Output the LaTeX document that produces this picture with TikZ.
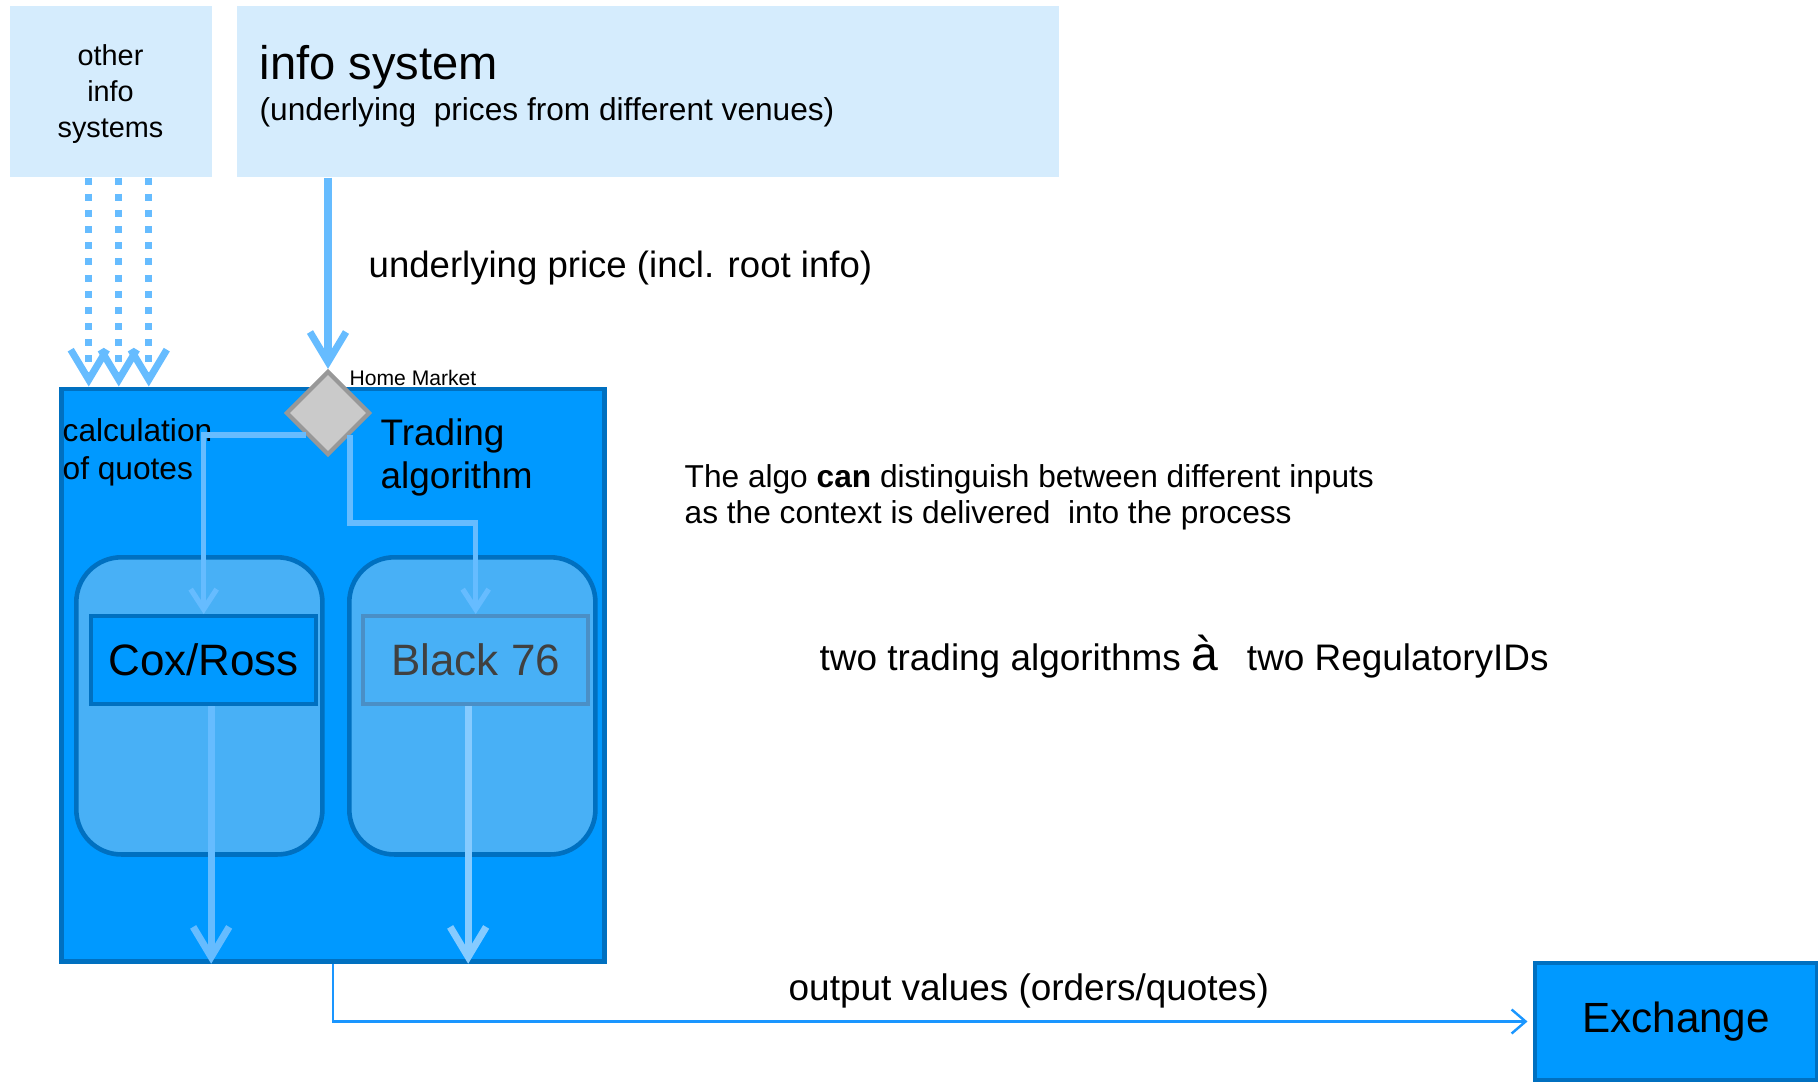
\documentclass[tikz,border=0pt]{standalone}
\usepackage{fontspec}
\setmainfont{Liberation Sans}
\usetikzlibrary{arrows.meta,shapes.geometric,positioning}

\definecolor{infofill}{HTML}{D5ECFD}
\definecolor{algofill}{HTML}{0099FF}
\definecolor{algoline}{HTML}{0070C0}
\definecolor{modelfill}{HTML}{48B0F6}
\definecolor{modelline}{HTML}{4A8FC6}
\definecolor{flowblue}{HTML}{66BCFF}
\definecolor{flowpale}{HTML}{86CBFF}
\definecolor{outblue}{HTML}{1A96FF}
\definecolor{diafill}{HTML}{CACACA}
\definecolor{dialine}{HTML}{989898}

\tikzset{
  infobox/.style={fill=infofill, inner sep=0pt, anchor=north west},
  algobox/.style={fill=algofill, draw=algoline, line width=1.4pt, inner sep=0pt, anchor=north west},
  modelbox/.style={fill=modelfill, draw=algoline, line width=1.3pt, rounded corners=0.45cm, inner sep=0pt, anchor=north west},
  txt/.style={inner sep=0pt, anchor=base west},
  feed/.style={flowblue, line width=2pt, -{Straight Barb[length=0.3cm,width=0.36cm]}},
  branch/.style={flowblue, line width=1.5pt, -{Straight Barb[length=0.2cm,width=0.26cm]}},
  result/.style={outblue, line width=0.7pt, shorten >=0.05cm, -{Straight Barb[length=0.14cm,width=0.24cm]}}
}

\begin{document}
\begin{tikzpicture}[x=0.01cm, y=-0.01cm]
	\useasboundingbox (0,0) rectangle (1818,1081);

	% sources
	\node[infobox, minimum width=2.02cm, minimum height=1.71cm] (other) at (9.5,5) {};
	\node[inner sep=0pt, anchor=base, align=center, font=\fontsize{8.2}{10.1}\selectfont] (othertxt) at (110.5,137) {other\\info\\systems};
	\node[infobox, minimum width=8.215cm, minimum height=1.71cm] (info) at (236.5,5) {};
	\node[txt, font=\fontsize{13.4}{16}\selectfont] (infotitle) at (259,79) {info system};
	\node[txt, font=\fontsize{9}{11}\selectfont] (infosub) at (259,120) {(underlying\ \ prices from different venues)};
	\node[txt, font=\fontsize{10.4}{12}\selectfont] (pricetxt) at (368,277) {underlying price (incl. root info)};

	% trading algorithm
	\node[algobox, minimum width=5.425cm, minimum height=5.72cm] (algo) at (59,386.5) {};
	\node[modelbox, minimum width=2.46cm, minimum height=2.97cm] (leftmodel) at (74,555) {};
	\node[modelbox, minimum width=2.46cm, minimum height=2.97cm] (rightmodel) at (347,555) {};
	\node[algobox, line width=1.2pt, minimum width=2.25cm, minimum height=0.88cm, font=\fontsize{12.5}{14}\selectfont] (cox) at (89,614) {Cox/Ross};
	\node[algobox, fill=modelfill, draw=modelline, line width=1.2pt, minimum width=2.25cm, minimum height=0.88cm, text=black!75, font=\fontsize{12.5}{14}\selectfont] (black) at (361,614) {Black 76};

	\node[txt, align=left, font=\fontsize{9}{10.8}\selectfont] (calctxt) at (62,479) {calculation\\of quotes};
	\node[txt, align=left, font=\fontsize{10.5}{12.2}\selectfont] (tradetxt) at (380,488) {Trading\\algorithm};
	\node[txt, font=\fontsize{6}{7}\selectfont] (hmtxt) at (349,385) {Home Market};

	\node[diamond, fill=diafill, draw=dialine, line width=1.2pt, minimum width=0.84cm, minimum height=0.84cm, inner sep=0pt] (hm) at (328,413) {};

	% inputs
	\foreach \dx [count=\i] in {-0.225,0.075,0.375}
		\draw[feed, dash pattern=on 2pt off 2.6pt] ([xshift=\dx cm]other.south) coordinate (src\i) -- (src\i |- algo.north);
	\draw[feed] (info.south -| hm.north) -- (hm.north);

	% branches to the models
	\draw[branch] (hm.south west) -| (cox.north);
	\draw[branch] (hm.south east) -- ++(0,88) -| (black.north);

	% outputs
	\draw[feed] ([xshift=0.075cm]cox.south) coordinate (coxout) -- (coxout |- algo.south);
	\draw[feed, flowpale] ([xshift=-0.075cm]black.south) coordinate (blackout) -- (blackout |- algo.south);

	\node[algobox, line width=1.4pt, minimum width=2.82cm, minimum height=1.17cm, font=\fontsize{12}{14}\selectfont] (exch) at (1532.5,960.5) {Exchange};
	\draw[result] (algo.south) |- (exch.west);
	\node[txt, font=\fontsize{10.5}{12}\selectfont] (outtxt) at (788,1000) {output values (orders/quotes)};

	% notes
	\node[txt, align=left, font=\fontsize{9}{10.24}\selectfont] (note) at (684,523) {The algo \textbf{can} distinguish between different inputs\\as the context is delivered\ \ into the process};
	\node[txt, font=\fontsize{10.5}{12}\selectfont] (idtxt) at (819,670) {two trading algorithms {\fontsize{13.7}{16}\selectfont à}\hspace{0.29cm}two RegulatoryIDs};
\end{tikzpicture}
\end{document}
